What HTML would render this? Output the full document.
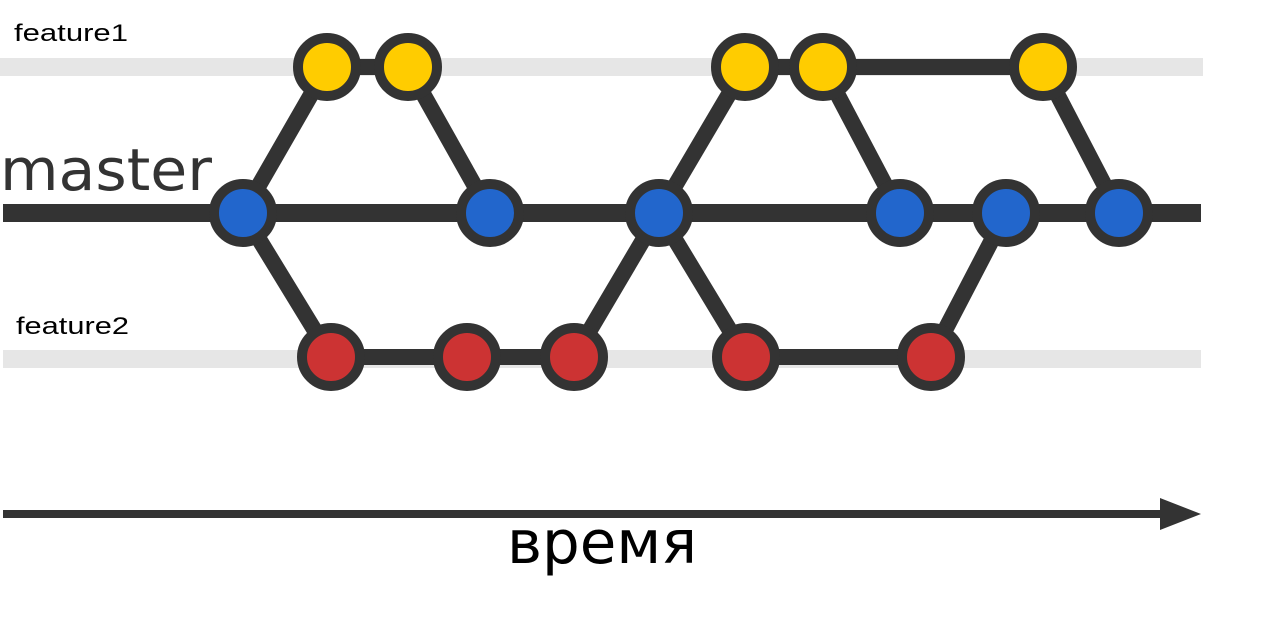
<!DOCTYPE html>
<html><head><meta charset="utf-8"><style>html,body{margin:0;padding:0;background:#fff}svg{display:block}</style></head>
<body>
<svg width="1261" height="626" viewBox="0 0 1261 626" xmlns="http://www.w3.org/2000/svg">
<rect x="0" y="58" width="1203" height="18" fill="#e6e6e6"/>
<rect x="3" y="350" width="1198" height="18" fill="#e6e6e6"/>
<rect x="3" y="204" width="1198" height="18" fill="#333"/>
<g stroke="#333" stroke-width="16" fill="none">
<line x1="243" y1="213" x2="327" y2="67"/>
<line x1="408" y1="67" x2="490" y2="213"/>
<line x1="659" y1="213" x2="745" y2="67"/>
<line x1="823" y1="67" x2="900" y2="213"/>
<line x1="1043" y1="67" x2="1119" y2="213"/>
<line x1="243" y1="213" x2="331" y2="357"/>
<line x1="574" y1="357" x2="659" y2="213"/>
<line x1="659" y1="213" x2="746" y2="357"/>
<line x1="931" y1="357" x2="1006" y2="213"/>
<line x1="327" y1="67" x2="408" y2="67"/>
<line x1="745" y1="67" x2="1043" y2="67"/>
<line x1="331" y1="357" x2="574" y2="357"/>
<line x1="746" y1="357" x2="931" y2="357"/>
</g>
<g stroke="#333" stroke-width="10">
<g fill="#ffcc00">
<circle cx="327" cy="67" r="29"/><circle cx="408" cy="67" r="29"/><circle cx="745" cy="67" r="29"/><circle cx="823" cy="67" r="29"/><circle cx="1043" cy="67" r="29"/>
</g>
<g fill="#2266cc">
<circle cx="243" cy="213" r="29"/><circle cx="490" cy="213" r="29"/><circle cx="659" cy="213" r="29"/><circle cx="900" cy="213" r="29"/><circle cx="1006" cy="213" r="29"/><circle cx="1119" cy="213" r="29"/>
</g>
<g fill="#cc3333">
<circle cx="331" cy="357" r="29"/><circle cx="467" cy="357" r="29"/><circle cx="574" cy="357" r="29"/><circle cx="746" cy="357" r="29"/><circle cx="931" cy="357" r="29"/>
</g>
</g>
<rect x="3" y="510" width="1160" height="8" fill="#333"/>
<polygon points="1160,498 1201,514 1160,530" fill="#333"/>
<text x="14" y="41" font-family="Liberation Sans, sans-serif" font-size="24" textLength="114" lengthAdjust="spacingAndGlyphs" fill="#000">feature1</text>
<text x="16" y="334" font-family="Liberation Sans, sans-serif" font-size="24" textLength="113" lengthAdjust="spacingAndGlyphs" fill="#000">feature2</text>
<text x="0" y="190" font-family="DejaVu Sans, Liberation Sans, sans-serif" font-size="58" textLength="212" lengthAdjust="spacingAndGlyphs" fill="#333">master</text>
<text x="507" y="563" font-family="DejaVu Sans, Liberation Sans, sans-serif" font-size="60" textLength="190" lengthAdjust="spacingAndGlyphs" fill="#000">время</text>
</svg>
</body></html>
